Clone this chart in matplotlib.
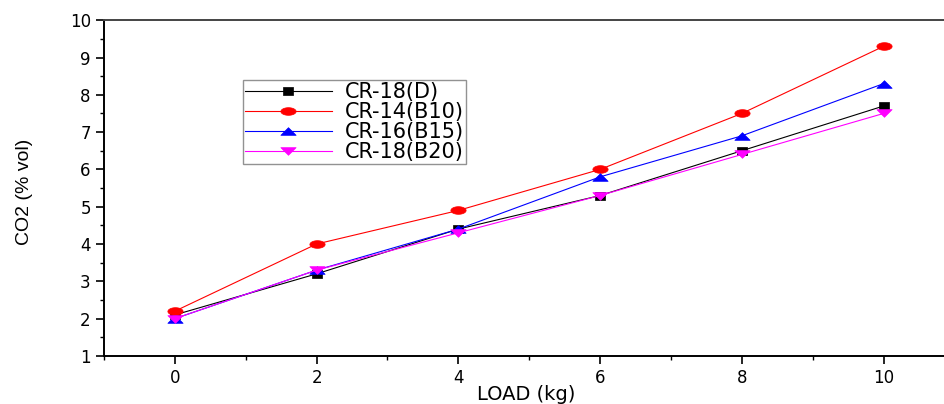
import matplotlib
matplotlib.use("Agg")
import matplotlib.pyplot as plt
import numpy as np
from matplotlib.ticker import MultipleLocator
from matplotlib.path import Path

plt.rcParams['font.family'] = ['DejaVu Sans']

load = [0, 2, 4, 6, 8, 10]
cr18_d = [2.1, 3.2, 4.4, 5.3, 6.5, 7.7]
cr14_b10 = [2.2, 4.0, 4.9, 6.0, 7.5, 9.3]
cr16_b15 = [2.0, 3.3, 4.4, 5.8, 6.9, 8.3]
cr18_b20 = [2.0, 3.3, 4.3, 5.3, 6.4, 7.5]
labels = ["CR-18(D)", "CR-14(B10)", "CR-16(B15)", "CR-18(B20)"]

# wide (horizontally stretched) marker shapes as in the reference
t = np.linspace(0, 2 * np.pi, 40)
ellipse = Path(np.column_stack([np.cos(t), 0.5 * np.sin(t)]), closed=True)
tri_up = Path([(-1, -0.5), (1, -0.5), (0, 0.5), (-1, -0.5)], closed=True)
tri_dn = Path([(-1, 0.5), (1, 0.5), (0, -0.5), (-1, 0.5)], closed=True)
rect = Path([(-1, -0.7), (1, -0.7), (1, 0.7), (-1, 0.7), (-1, -0.7)], closed=True)

fig = plt.figure(figsize=(9.45, 4.04), dpi=100)
ax = fig.add_axes([0.110, 0.119, 0.90, 0.831])

series = [cr18_d, cr14_b10, cr16_b15, cr18_b20]
colors = ["black", "red", "blue", "magenta"]
markers = [rect, ellipse, tri_up, tri_dn]
msizes = [7.5, 11, 11, 11]
for s, c, m, ms, lab in zip(series, colors, markers, msizes, labels):
    ax.plot(load, s, color=c, marker=m, markersize=ms, linewidth=0.8, label=lab,
            markeredgecolor=c, markerfacecolor=c, markeredgewidth=0.5)

ax.set_xlim(-1, 11)
ax.set_ylim(1, 10)
ax.xaxis.set_major_locator(MultipleLocator(2))
ax.xaxis.set_minor_locator(MultipleLocator(1))
ax.yaxis.set_major_locator(MultipleLocator(1))
ax.yaxis.set_minor_locator(MultipleLocator(0.5))
ax.tick_params(which='major', direction='out', length=6, width=1.2, labelsize=12)
ax.tick_params(which='minor', direction='out', length=3, width=1.0)
for sp in ax.spines.values():
    sp.set_linewidth(1.4)
ax.spines['top'].set_color('#444444')

fig.text(0.557, 1 - 385 / 404, "LOAD (kg)", fontsize=14, ha='center', va='top')
fig.text(25 / 945, 1 - 192 / 404, "CO2 (% vol)", fontsize=14, rotation=90,
         ha='center', va='center',
         family=['Liberation Sans Narrow', 'Liberation Sans', 'DejaVu Sans'])

leg = ax.legend(loc='upper left', bbox_to_anchor=(0.163, 0.821), fontsize=15,
                frameon=True, fancybox=False, edgecolor='#777777',
                handlelength=4.2, borderpad=0.1, labelspacing=0.0,
                handletextpad=0.6, borderaxespad=0.0)
leg.get_frame().set_linewidth(1.0)

fig.savefig("out.png", dpi=100)
